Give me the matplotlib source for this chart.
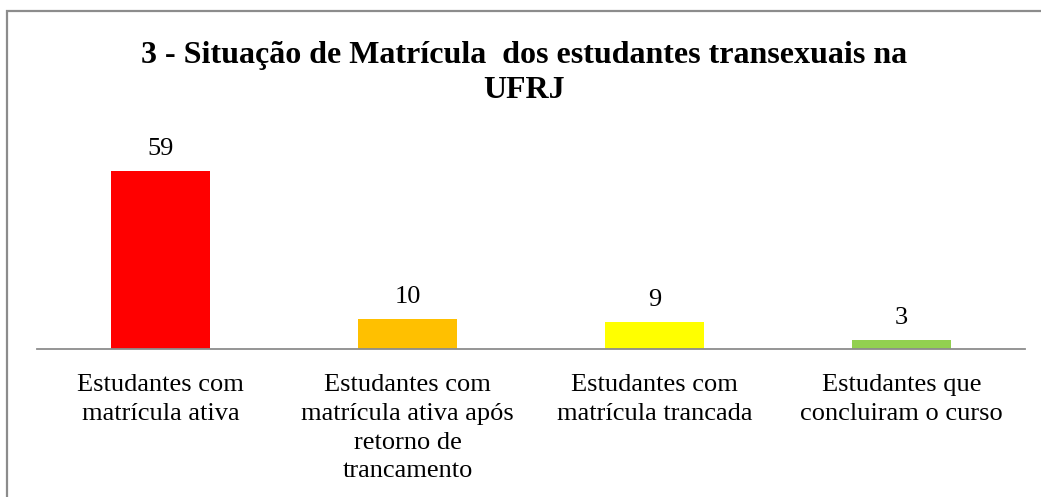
import matplotlib.pyplot as plt
from matplotlib.patches import Rectangle

categorias = ["Estudantes com\nmatrícula ativa",
              "Estudantes com\nmatrícula ativa após\nretorno de\ntrancamento",
              "Estudantes com\nmatrícula trancada",
              "Estudantes que\nconcluiram o curso"]
valores = [59, 10, 9, 3]
cores = ["#FF0000", "#FFC000", "#FFFF00", "#92D050"]
titulo = "3 - Situação de Matrícula  dos estudantes transexuais na\nUFRJ"

plt.rcParams['font.family'] = ['Liberation Serif', 'DejaVu Serif']

W, H = 1041, 497
fig = plt.figure(figsize=(W / 100, H / 100), dpi=100)

# moldura cinza do grafico (cortada na direita e embaixo)
fig.patches.append(Rectangle((7 / W, -0.1), 1.2, 1.1 - 11 / H,
                             transform=fig.transFigure, fill=False,
                             edgecolor="#8c8c8c", linewidth=1.6))

ax = fig.add_axes([37 / W, (H - 349) / H, 988 / W, 211 / H])
x = range(len(valores))
barras = ax.bar(x, valores, width=0.4, color=cores)
ax.set_xlim(-0.5, 3.5)
ax.set_ylim(0, 70)

for b, v in zip(barras, valores):
    ax.annotate(str(v), (b.get_x() + b.get_width() / 2, v),
                xytext=(0, 8), textcoords="offset points",
                ha="center", va="bottom", fontsize=19)

ax.set_xticks(list(x))
ax.set_xticklabels(categorias, fontsize=19, linespacing=1.4)
ax.tick_params(axis="x", length=0, pad=18)
ax.set_yticks([])
for s in ["top", "right", "left"]:
    ax.spines[s].set_visible(False)
ax.spines["bottom"].set_color("#8c8c8c")
ax.spines["bottom"].set_linewidth(1.3)

fig.text(524 / W, 1 - 73 / H, titulo, ha="center", va="center",
         fontsize=23, fontweight="bold", linespacing=1.3)

fig.savefig("out.png", dpi=100)
